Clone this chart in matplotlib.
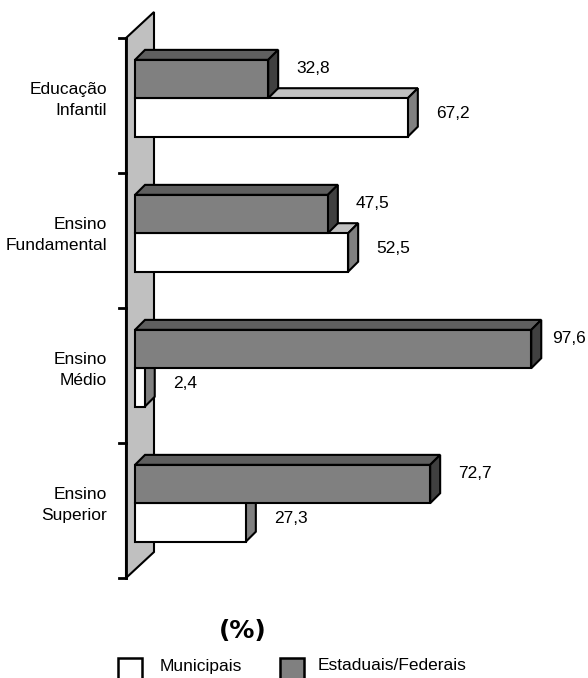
import matplotlib
matplotlib.use("Agg")
import matplotlib.pyplot as plt
from matplotlib.patches import Polygon, Rectangle

# ---- data -------------------------------------------------------------
categories = ["Educação\nInfantil", "Ensino\nFundamental", "Ensino\nMédio", "Ensino\nSuperior"]
municipais = [67.2, 52.5, 2.4, 27.3]
estaduais_federais = [32.8, 47.5, 97.6, 72.7]
series_names = ["Municipais", "Estaduais/Federais"]
unit_label = "(%)"

# ---- layout (pixels) --------------------------------------------------
W, H = 588, 678
PX_PER_UNIT = 4.06      # horizontal pixels per percentage point
X0_PX = 135             # pixel column of value 0
BAND_PX = 135           # pixel height of one category band
Y0_PX = 38              # pixel row of the first category boundary

plt.rcParams["font.family"] = ["Liberation Sans", "DejaVu Sans"]

fig = plt.figure(figsize=(W / 100, H / 100), dpi=100)
ax = fig.add_axes([0, 0, 1, 1])
ax.set_xlim(-X0_PX / PX_PER_UNIT, (W - X0_PX) / PX_PER_UNIT)
ax.set_ylim((H - Y0_PX) / BAND_PX, -Y0_PX / BAND_PX)
ax.axis("off")

ux = 1 / PX_PER_UNIT    # one pixel in x units
uy = 1 / BAND_PX        # one pixel in y units

LW = 1.5
EDGE = "black"

# ---- back wall --------------------------------------------------------
n = len(categories)
wall_front_x = -9 * ux
wall_dx, wall_dy = 28 * ux, 26 * uy
wall = Polygon([(wall_front_x, 0), (wall_front_x + wall_dx, -wall_dy),
                (wall_front_x + wall_dx, n - wall_dy), (wall_front_x, n)],
               closed=True, facecolor="#c0c0c0", edgecolor=EDGE, lw=LW, zorder=1)
ax.add_patch(wall)
ax.plot([wall_front_x, wall_front_x], [0, n], color=EDGE, lw=2.0, zorder=2,
        solid_capstyle="projecting")
for i in range(n + 1):
    ax.plot([wall_front_x - 7 * ux, wall_front_x], [i, i], color=EDGE, lw=2.0, zorder=2)

# ---- 3D bars ----------------------------------------------------------
bar_dx, bar_dy = 10 * ux, 10 * uy


def bar3d(value, ytop, ybot, front, top, side, z):
    x0, x1 = 0.0, value
    faces = [
        ([(x0, ytop), (x0 + bar_dx, ytop - bar_dy), (x1 + bar_dx, ytop - bar_dy), (x1, ytop)], top),
        ([(x1, ytop), (x1 + bar_dx, ytop - bar_dy), (x1 + bar_dx, ybot - bar_dy), (x1, ybot)], side),
        ([(x0, ytop), (x1, ytop), (x1, ybot), (x0, ybot)], front),
    ]
    for pts, col in faces:
        ax.add_patch(Polygon(pts, closed=True, facecolor=col, edgecolor=EDGE,
                             lw=LW, joinstyle="miter", zorder=z))


TOP_FRAC, MID_FRAC, BOT_FRAC = 0.162, 0.446, 0.731
label_gap = 18 * ux
label_xmax = (552 - X0_PX) * ux

for i in range(n):
    m = municipais[i]
    e = estaduais_federais[i]
    # white (municipal) bar sits below and behind the grey bar's front plane
    bar3d(m, i + MID_FRAC, i + BOT_FRAC, "white", "#c0c0c0", "#808080", 3 + 2 * i)
    bar3d(e, i + TOP_FRAC, i + MID_FRAC, "#808080", "#5f5f5f", "#404040", 4 + 2 * i)

    lx_e = min(e + bar_dx + label_gap, label_xmax)
    lx_m = min(m + bar_dx + label_gap, label_xmax)
    ax.text(lx_e, i + (TOP_FRAC + MID_FRAC) / 2 - 11 * uy, f"{e:.1f}".replace(".", ","),
            ha="left", va="center", fontsize=12.5, color="black")
    ax.text(lx_m, i + (MID_FRAC + BOT_FRAC) / 2 - 4 * uy, f"{m:.1f}".replace(".", ","),
            ha="left", va="center", fontsize=12.5, color="black")

    ax.text((107 - X0_PX) * ux, i + 0.46, categories[i], ha="right", va="center",
            multialignment="right", fontsize=12.5, color="black", linespacing=1.45)

# ---- legend -----------------------------------------------------------
fig.text(243 / W, 1 - 631 / H, unit_label, ha="center", va="center",
         fontsize=18, fontweight="bold", family=["DejaVu Sans"])

sq = 24
for (px, tx), name, col in zip([(118, 160), (280, 318)], series_names, ["white", "#808080"]):
    fig.patches.append(Rectangle((px / W, 1 - (658 + sq) / H), sq / W, sq / H,
                                 transform=fig.transFigure, facecolor=col,
                                 edgecolor=EDGE, lw=1.8))
    fig.text(tx / W, 1 - 666 / H, name, ha="left", va="center", fontsize=12.5)

fig.savefig("out.png", dpi=100)
